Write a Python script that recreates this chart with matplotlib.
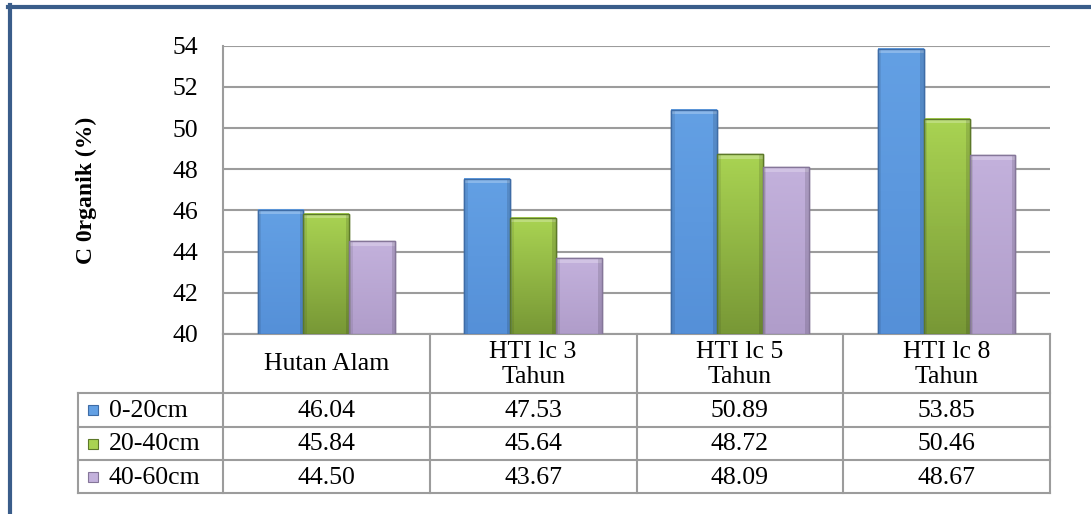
import numpy as np
import matplotlib.pyplot as plt
from matplotlib.colors import LinearSegmentedColormap
from matplotlib.patches import Rectangle
from matplotlib.lines import Line2D

plt.rcParams['font.family'] = ['Liberation Serif', 'DejaVu Serif']

# data
categories = ['Hutan Alam', 'HTI lc 3\nTahun', 'HTI lc 5\nTahun', 'HTI lc 8\nTahun']
series = ['0-20cm', '20-40cm', '40-60cm']
d0_20 = [46.04, 47.53, 50.89, 53.85]
d20_40 = [45.84, 45.64, 48.72, 50.46]
d40_60 = [44.50, 43.67, 48.09, 48.67]
yticks = [40, 42, 44, 46, 48, 50, 52, 54]

values = [d0_20, d20_40, d40_60]
# (top colour, bottom colour, edge colour)
colors = [('#63A0E4', '#5590D8', '#3E6CA6'),
          ('#A9D352', '#789836', '#5C7829'),
          ('#C3B1DC', '#B09DCA', '#857699')]

W, H = 1091, 514
fig = plt.figure(figsize=(W / 100, H / 100), dpi=100)
fig.patch.set_facecolor('white')

gridc = '#9C9C9C'
fs = 18.5

# bar plot area
ax = fig.add_axes([223 / W, (H - 334) / H, (1050 - 223) / W, (334 - 45.7) / H])
x = np.arange(len(categories))
bw = 0.222
for i, vals in enumerate(values):
    top, bot, edge = colors[i]
    cmap = LinearSegmentedColormap.from_list('g%d' % i, [bot, top])
    bars = ax.bar(x + (i - 1) * bw, np.array(vals) - 40, bw, bottom=40,
                  color=top, edgecolor=edge, linewidth=1.0, zorder=3)
    for b in bars:
        x0, y0 = b.get_x(), b.get_y()
        w, h = b.get_width(), b.get_height()
        grad = np.linspace(0, 1, 64).reshape(-1, 1)
        ax.imshow(grad, extent=[x0, x0 + w, y0, y0 + h], origin='lower',
                  cmap=cmap, aspect='auto', zorder=3.5)
        # bevel highlights
        ax.add_patch(Rectangle((x0, y0 + h - 0.22), w, 0.22, color='white',
                               alpha=0.25, lw=0, zorder=4))
        ax.add_patch(Rectangle((x0, y0), w * 0.08, h, color='black',
                               alpha=0.08, lw=0, zorder=4))
        ax.add_patch(Rectangle((x0 + w * 0.92, y0), w * 0.08, h, color='black',
                               alpha=0.12, lw=0, zorder=4))
        ax.add_patch(Rectangle((x0, y0), w, h, fill=False, edgecolor=edge,
                               lw=1.0, zorder=5))

ax.set_xlim(-0.5, len(categories) - 0.5)
ax.set_ylim(40, 54)
ax.set_yticks(yticks)
ax.set_yticklabels([str(t) for t in yticks], fontsize=fs)
ax.set_xticks([])
ax.tick_params(axis='y', length=0, pad=18)
ax.yaxis.grid(True, color=gridc, lw=1.5, zorder=0)
for s in ['top', 'right']:
    ax.spines[s].set_visible(False)
ax.spines['left'].set_color(gridc)
ax.spines['left'].set_linewidth(1.5)
ax.spines['bottom'].set_color(gridc)
ax.spines['bottom'].set_linewidth(1.5)

fig.text(86 / W, 1 - 190 / H, 'C 0rganik (%)', rotation=90, fontsize=17,
         fontweight='bold', ha='center', va='center')

# data table
leg_w = 145 / ((1050 - 223) / 4)
tab = fig.add_axes([78 / W, (H - 494) / H, (1050 - 78) / W, (494 - 334) / H])
tab.set_xlim(-0.5 - leg_w, len(categories) - 0.5)
tab.set_ylim(494, 334)
tab.axis('off')

rows = [334, 393, 427, 460, 493]
xl = -0.5 - leg_w
xr = len(categories) - 0.5
for yy in rows[1:]:
    tab.plot([xl, xr], [yy, yy], color=gridc, lw=1.5, clip_on=False)
tab.plot([xl, xl], [rows[1], rows[-1]], color=gridc, lw=1.5, clip_on=False)
for xx in np.arange(-0.5, len(categories), 1.0):
    tab.plot([xx, xx], [rows[0], rows[-1]], color=gridc, lw=1.5, clip_on=False)

for j, c in enumerate(categories):
    tab.text(j, (rows[0] + rows[1]) / 2 + 1, c, fontsize=fs, ha='center',
             va='center', linespacing=1.15)

px = (1050 - 223) / 4
for i, (name, vals) in enumerate(zip(series, values)):
    yc = (rows[i + 1] + rows[i + 2]) / 2
    top, bot, edge = colors[i]
    tab.add_patch(Rectangle((xl + 10 / px, yc - 5), 10 / px, 10,
                            facecolor=top, edgecolor=edge, lw=0.8))
    tab.text(xl + 31 / px, yc + 1, name, fontsize=fs, ha='left', va='center')
    for j, v in enumerate(vals):
        tab.text(j, yc + 1, '%.2f' % v, fontsize=fs, ha='center', va='center')

# outer blue frame
frame = '#3A5D8A'
fig.add_artist(Line2D([8 / W, 1], [1 - 7 / H, 1 - 7 / H], color=frame, lw=3))
fig.add_artist(Line2D([10 / W, 10 / W], [0, 1 - 5 / H], color=frame, lw=3))

fig.savefig('out.png', dpi=100)
